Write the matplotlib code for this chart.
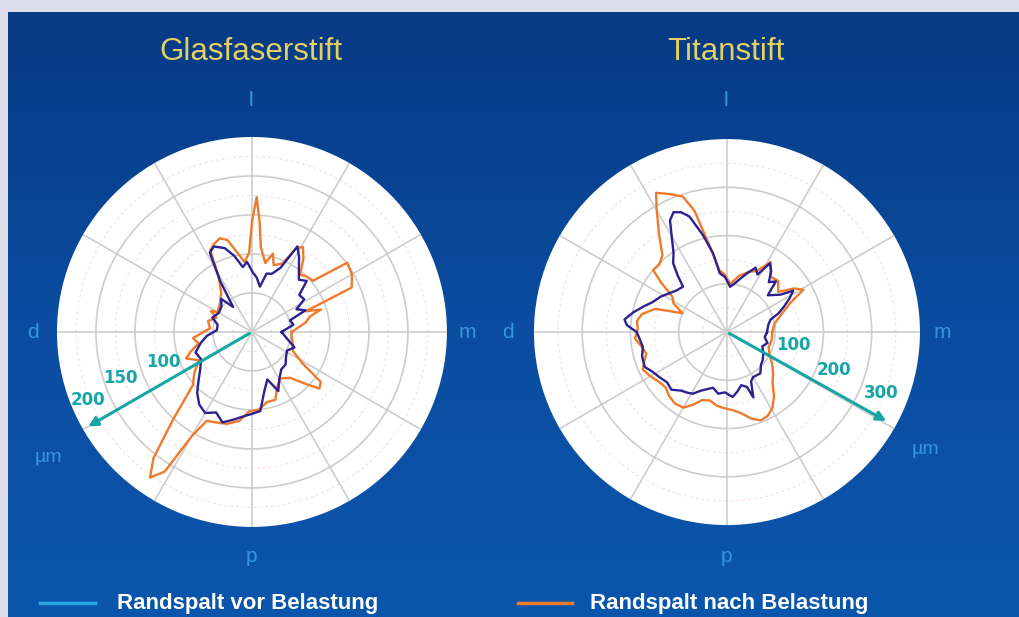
import numpy as np
import matplotlib
matplotlib.use("Agg")
import matplotlib.pyplot as plt
from matplotlib.lines import Line2D

# Glasfaserstift: margin gap (µm) per angle (deg, 0 = m, 90 = l)
glas_vor_ang = [0, 10, 17, 22, 27, 32, 38, 43, 48, 53, 58, 62, 66, 71, 76, 80, 85, 89, 94, 98,
                103, 108, 114, 118, 122, 127, 133, 140, 150, 160, 168, 177, 185, 192, 200, 208,
                216, 222, 228, 234, 240, 246, 252, 258, 264, 270, 276, 282, 288, 294, 300, 308,
                316, 324, 332, 340, 350]
glas_vor_um = [38, 54, 51, 74, 64, 79, 77, 96, 90, 100, 114, 124, 90, 79, 77, 59, 70, 76, 90, 84,
               100, 113, 120, 115, 77, 40, 58, 51, 49, 54, 45, 45, 58, 67, 77, 74,
               82, 92, 105, 115, 120, 113, 122, 115, 109, 105, 102, 77, 64, 83, 70, 61,
               60, 54, 51, 58, 45]

glas_nach_ang = [0, 10, 15, 18, 21, 24, 30, 36, 40, 45, 50, 55, 59, 62, 66, 72, 75, 79, 84, 86,
                 88, 90, 92, 96, 100, 105, 109, 113, 117, 121, 128, 140, 150, 153, 158, 166, 175,
                 186, 192, 198, 202, 208, 215, 222, 228, 232, 235, 238, 240, 243, 248, 255, 262,
                 268, 275, 282, 289, 295, 302, 310, 316, 320, 324, 328, 335, 345, 355]
glas_nach_um = [51, 70, 77, 93, 74, 140, 148, 151, 102, 100, 96, 115, 127, 122, 96, 90, 104, 90, 109, 141,
                173, 141, 102, 90, 102, 122, 127, 123, 118, 83, 64, 54, 51, 59, 49, 58, 54,
                76, 70, 83, 91, 77, 90, 102, 151, 205, 228, 211, 154, 128, 125, 122, 115,
                102, 100, 92, 92, 77, 70, 77, 96, 113, 109, 77, 58, 54, 51]

# Titanstift
titan_vor_ang = [0, 10, 16, 20, 24, 28, 32, 35, 38, 42, 46, 50, 54, 58, 62, 66, 71, 76, 80, 86,
                 92, 97, 100, 104, 108, 111, 114, 117, 120, 124, 128, 131, 134, 140, 146, 152, 158,
                 163, 168, 173, 176, 180, 185, 190, 196, 203, 208, 214, 220, 226, 232, 237, 241,
                 246, 251, 256, 262, 268, 275, 280, 285, 290, 292, 296, 300, 309, 316, 322, 330,
                 338, 345, 352]
titan_vor_um = [83, 87, 94, 114, 129, 146, 162, 135, 125, 114, 146, 135, 156, 168, 135, 146, 129, 114, 104, 94,
                114, 123, 166, 208, 252, 266, 272, 260, 229, 198, 181, 156, 131, 135, 144, 156, 166,
                181, 198, 214, 208, 187, 181, 177, 183, 185, 175, 168, 162, 166, 154, 150, 146,
                133, 125, 119, 129, 125, 135, 125, 114, 121, 146, 114, 108, 110, 98, 94, 87,
                79, 87, 79]

titan_nach_ang = [0, 10, 20, 25, 29, 33, 38, 45, 52, 58, 64, 70, 78, 86, 92, 97, 101, 105, 108, 112,
                  117, 120, 125, 130, 135, 140, 143, 147, 152, 157, 162, 168, 173, 178, 184, 190, 195,
                  200, 204, 210, 216, 222, 228, 234, 240, 245, 250, 256, 262, 268, 274, 280, 286,
                  291, 296, 301, 306, 312, 318, 325, 332, 340, 350]
titan_nach_um = [94, 100, 125, 146, 181, 166, 135, 150, 146, 171, 141, 133, 119, 100, 119, 129, 177, 260, 295, 308,
                 324, 291, 245, 208, 198, 200, 171, 135, 125, 100, 156, 180, 188, 185, 191, 179, 173,
                 183, 191, 183, 175, 171, 179, 183, 181, 166, 150, 146, 154, 158, 162, 171, 187,
                 196, 193, 183, 166, 141, 129, 114, 100, 92, 94]

titles = ["Glasfaserstift", "Titanstift"]
dir_labels = ["l", "m", "p", "d"]
glas_scale = [100, 150, 200]
titan_scale = [100, 200, 300]
legend_labels = ["Randspalt vor Belastung", "Randspalt nach Belastung"]

NAVY = "#2b2190"
ORANGE = "#ef7a2a"
TEAL = "#16a6a6"
LABEL = "#3596dc"
GOLD = "#e3cf63"

fig = plt.figure(figsize=(10.19, 6.17), dpi=100)

# background: grey frame + blue gradient
bg = fig.add_axes([0, 0, 1, 1])
bg.set_xlim(0, 1)
bg.set_ylim(0, 1)
bg.axis("off")
bg.add_patch(plt.Rectangle((0, 0), 1, 1, color="#dcdde8", zorder=0))
grad = np.linspace(0, 1, 256).reshape(-1, 1)
cmap = matplotlib.colors.LinearSegmentedColormap.from_list(
    "bgblue", ["#0b56ad", "#0a4c9f", "#073a84"])
bg.imshow(grad, cmap=cmap, extent=[8 / 1019, 1, 0, 1 - 12 / 617],
          aspect="auto", origin="lower", zorder=1)


def polar_panel(rect, rmax, rings, vor_ang, vor_um, nach_ang, nach_um):
    ax = fig.add_axes(rect, projection="polar")
    ax.set_facecolor("white")
    ax.set_ylim(0, rmax)
    ax.set_xticks(np.deg2rad(np.arange(0, 360, 30)))
    ax.set_xticklabels([])
    ax.set_yticks(rings)
    ax.set_yticklabels([])
    ax.grid(True, color="#cdcdcd", lw=1.2)
    ax.spines["polar"].set_visible(False)
    # faint dashed intermediate rings
    th = np.linspace(0, 2 * np.pi, 300)
    step = rings[1] - rings[0]
    for r in np.arange(step / 2, rmax, step):
        ax.plot(th, np.full_like(th, r), color="#f4dbe2", lw=0.7, ls=(0, (3, 3)), zorder=1)
    for ang, um, c in [(nach_ang, nach_um, ORANGE), (vor_ang, vor_um, NAVY)]:
        t = np.deg2rad(np.append(ang, ang[0]))
        r = np.append(um, um[0])
        ax.plot(t, r, color=c, lw=1.7, zorder=3)
    return ax


axL = polar_panel([0.0559, 0.146, 0.3827, 0.632], 250, [50, 100, 150, 200],
                  glas_vor_ang, glas_vor_um, glas_nach_ang, glas_nach_um)
axR = polar_panel([0.524, 0.149, 0.3788, 0.6256], 400, [100, 200, 300],
                  titan_vor_ang, titan_vor_um, titan_nach_ang, titan_nach_um)

# scale arrows
axL.annotate("", xy=(np.deg2rad(210), 246), xytext=(0, 0),
             arrowprops=dict(arrowstyle="-|>", color=TEAL, lw=2.2, mutation_scale=14), zorder=5)
axR.annotate("", xy=(np.deg2rad(-29.2), 384), xytext=(0, 0),
             arrowprops=dict(arrowstyle="-|>", color=TEAL, lw=2.2, mutation_scale=14), zorder=5)
for v, a, r in zip(glas_scale, [198.6, 199.2, 202.5], [120, 179, 228]):
    axL.text(np.deg2rad(a), r, str(v), color=TEAL, fontsize=12, fontweight="bold",
             ha="center", va="center", zorder=6)
for v, a, r in zip(titan_scale, [-11, -19.7, -21.7], [140, 235, 343]):
    axR.text(np.deg2rad(a), r, str(v), color=TEAL, fontsize=12, fontweight="bold",
             ha="center", va="center", zorder=6)

# titles and direction labels
for title, cx in zip(titles, [251, 726]):
    fig.text(cx / 1019, 1 - 52 / 617, title, color=GOLD, fontsize=22.5,
             ha="center", va="center", family="Liberation Sans")
    offsets = [(0, -232), (216, 0), (0, 224), (-218, 0)]
    for lab, (dx, dy) in zip(dir_labels, offsets):
        fig.text((cx + dx) / 1019, 1 - (332 + dy) / 617, lab, color=LABEL, fontsize=15,
                 ha="center", va="center", family="Liberation Sans")
fig.text(48 / 1019, 1 - 458 / 617, "µm", color=LABEL, fontsize=14, ha="center", va="center",
         family="Liberation Sans")
fig.text(925 / 1019, 1 - 450 / 617, "µm", color=LABEL, fontsize=14, ha="center", va="center",
         family="Liberation Sans")

# legend
for (x0, x1, tx), lab, c in zip([(40, 95, 117), (518, 572, 590)], legend_labels, ["#2aa6e0", ORANGE]):
    bg.add_line(Line2D([x0 / 1019, x1 / 1019], [1 - 603 / 617] * 2, color=c, lw=2.5, zorder=3))
    bg.text(tx / 1019, 1 - 603 / 617, lab, color="white", fontsize=16, fontweight="bold",
            ha="left", va="center", family="Liberation Sans", zorder=3)

fig.savefig("out.png", dpi=100)
